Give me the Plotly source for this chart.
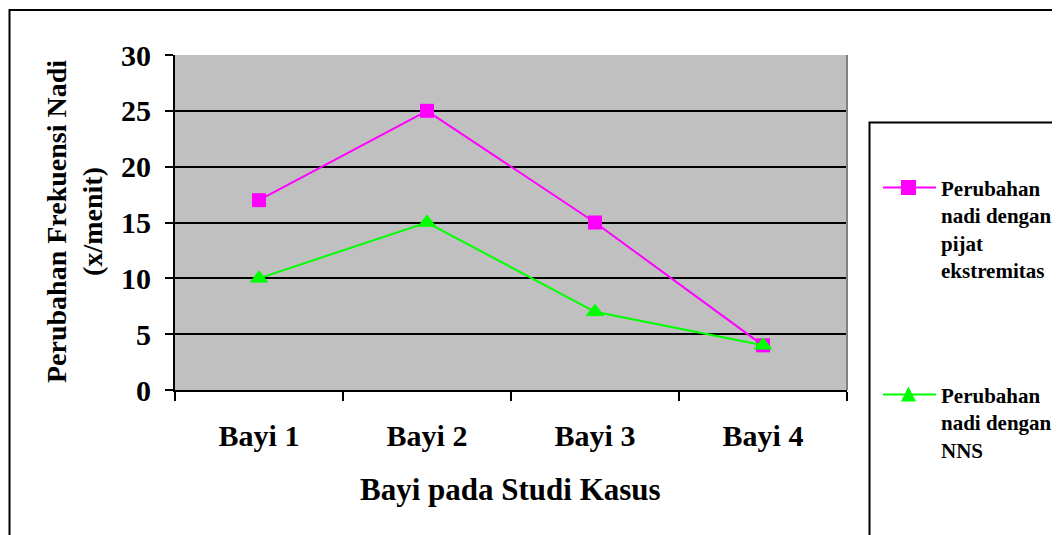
import plotly.graph_objects as go

# ---- data ----
categories = ["Bayi 1", "Bayi 2", "Bayi 3", "Bayi 4"]
pijat_values = [17, 25, 15, 4]
nns_values = [10, 15, 7, 4]
series_names = ["Perubahan nadi dengan pijat ekstremitas", "Perubahan nadi dengan NNS"]
legend_text = ["Perubahan<br>nadi dengan<br>pijat<br>ekstremitas", "Perubahan<br>nadi dengan<br>NNS"]
y_ticks = [0, 5, 10, 15, 20, 25, 30]
x_title = "Bayi pada Studi Kasus"
y_title = "Perubahan Frekuensi Nadi<br>(x/menit)"

MAGENTA = "#FF00FF"
GREEN = "#00FF00"
FONT = "Liberation Serif"

W, H = 1060, 535
OFF = 8  # page body margin


def px(x):
    return (x - OFF) / W


def py(y):
    return 1 - (y - OFF) / H


fig = go.Figure()
fig.add_trace(go.Scatter(
    x=categories, y=pijat_values, mode="lines+markers", name=series_names[0],
    line=dict(color=MAGENTA, width=2),
    marker=dict(symbol="square", size=14, color=MAGENTA),
))
fig.add_trace(go.Scatter(
    x=categories, y=nns_values, mode="lines+markers", name=series_names[1],
    line=dict(color=GREEN, width=2),
    marker=dict(symbol="triangle-up", size=15, color=GREEN, line=dict(color=GREEN, width=1)),
))

fig.update_layout(
    template="none",
    width=W, height=H,
    margin=dict(l=0, r=0, t=0, b=0, pad=0, autoexpand=False),
    paper_bgcolor="white",
    plot_bgcolor="#C0C0C0",
    showlegend=False,
    font=dict(family=FONT, color="black"),
    xaxis=dict(
        domain=[px(175), px(847)], automargin=False,
        type="category", range=[-0.5, 3.5],
        tickson="boundaries", ticks="outside", ticklen=9, tickwidth=2, tickcolor="black",
        showline=True, linecolor="black", linewidth=2, showgrid=False, zeroline=False,
        tickfont=dict(size=30, family=FONT, weight="bold", color="black"),
        ticklabelstandoff=18,
    ),
    yaxis=dict(
        domain=[py(390), py(55)], automargin=False,
        range=[0, 30], tickvals=y_ticks, ticks="outside", ticklen=8, tickwidth=2, tickcolor="black",
        showline=True, linecolor="black", linewidth=2,
        showgrid=True, gridcolor="black", gridwidth=2, zeroline=False,
        tickfont=dict(size=30, family=FONT, weight="bold", color="black"),
        ticklabelstandoff=8,
    ),
)

shapes = [
    # outer chart border
    dict(type="rect", xref="paper", yref="paper", x0=px(9.5), y0=-0.05, x1=1.05, y1=py(10),
         line=dict(color="black", width=2), fillcolor="rgba(0,0,0,0)", layer="below"),
    # right border of plot area
    dict(type="line", xref="paper", yref="paper", x0=px(847), x1=px(847), y0=py(390), y1=py(55),
         line=dict(color="#808080", width=2)),
    # legend box
    dict(type="rect", xref="paper", yref="paper", x0=px(869.5), y0=-0.05, x1=1.05, y1=py(122.5),
         line=dict(color="black", width=2), fillcolor="white"),
    # legend item 1
    dict(type="line", xref="paper", yref="paper", x0=px(883), x1=px(936), y0=py(187.5), y1=py(187.5),
         line=dict(color=MAGENTA, width=2)),
    dict(type="rect", xref="paper", yref="paper", x0=px(901), x1=px(916), y0=py(195), y1=py(180),
         line=dict(color=MAGENTA, width=0), fillcolor=MAGENTA),
    # legend item 2
    dict(type="line", xref="paper", yref="paper", x0=px(883), x1=px(936), y0=py(394.5), y1=py(394.5),
         line=dict(color=GREEN, width=2)),
    dict(type="path", xref="paper", yref="paper",
         path=f"M {px(908.5)},{py(386.5)} L {px(916)},{py(401.5)} L {px(901)},{py(401.5)} Z",
         line=dict(color=GREEN, width=0), fillcolor=GREEN),
]
fig.update_layout(shapes=shapes)

annotations = [
    dict(text=x_title, xref="paper", yref="paper", x=px(510), y=py(489), xanchor="center", yanchor="middle",
         showarrow=False, font=dict(size=31, family=FONT, weight="bold", color="black")),
    dict(text=y_title, xref="paper", yref="paper", x=px(74), y=py(222), xanchor="center", yanchor="middle",
         textangle=-90, showarrow=False, font=dict(size=28, family=FONT, weight="bold", color="black")),
    dict(text=legend_text[0], xref="paper", yref="paper", x=px(939), y=py(175), xanchor="left", yanchor="top",
         align="left", showarrow=False, font=dict(size=21, family=FONT, weight="bold", color="black")),
    dict(text=legend_text[1], xref="paper", yref="paper", x=px(939), y=py(382), xanchor="left", yanchor="top",
         align="left", showarrow=False, font=dict(size=21, family=FONT, weight="bold", color="black")),
]
fig.update_layout(annotations=annotations)

fig.write_html("out.html")
